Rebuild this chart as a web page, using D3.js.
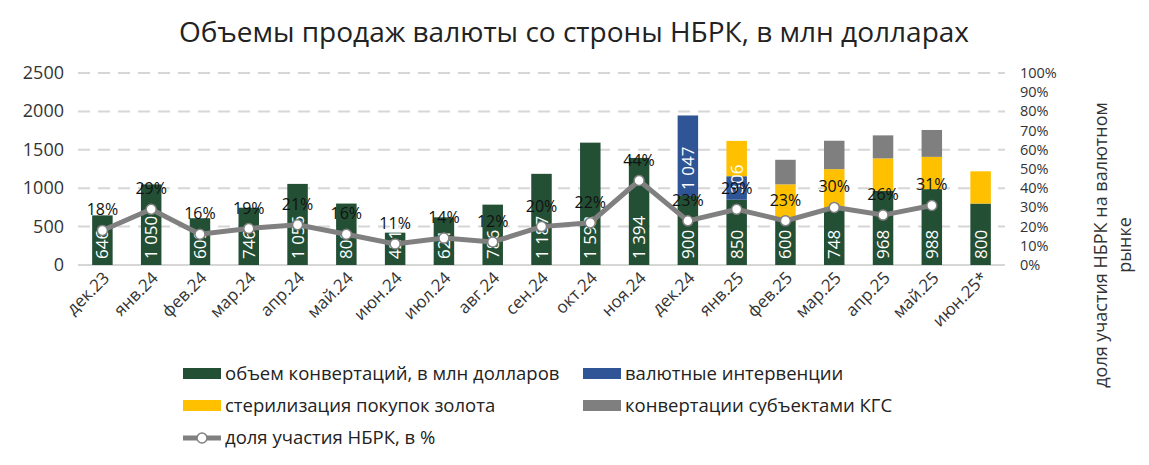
<!DOCTYPE html>
<html><head><meta charset="utf-8">
<script src="https://cdn.jsdelivr.net/npm/d3@7"></script>
<style>body{margin:0;background:#fff;font-family:"Open Sans",sans-serif;}</style>
</head><body><svg id="c" width="1149" height="465"></svg>
<script>
var months = ['дек.23','янв.24','фев.24','мар.24','апр.24','май.24','июн.24','июл.24','авг.24','сен.24','окт.24','ноя.24','дек.24','янв.25','фев.25','мар.25','апр.25','май.25','июн.25*'];
var conv = [646,1050,609,746,1056,800,421,621,786,1187,1593,1394,900,850,600,748,968,988,800];
var interv = [0,0,0,0,0,0,0,0,0,0,0,0,1047,306,0,0,0,0,0];
var gold = [0,0,0,0,0,0,0,0,0,0,0,0,0,460,450,500,420,420,420];
var kgs = [0,0,0,0,0,0,0,0,0,0,0,0,0,0,320,370,300,350,0];
var share = [18,29,16,19,21,16,11,14,12,20,22,44,23,29,23,30,26,31,null];
var leftTicks = [0,500,1000,1500,2000,2500];
var rightTicks = [0,10,20,30,40,50,60,70,80,90,100];

var svg = d3.select('#c');
var L = 78, R = 1005, T = 73, B = 265;
var x = d3.scaleBand().domain(months).range([L, R]).paddingInner(0.58).paddingOuter(0.29);
var y = d3.scaleLinear().domain([0, 2500]).range([B, T]);
var y2 = d3.scaleLinear().domain([0, 100]).range([B, T]);

svg.append('text').attr('x', 574).attr('y', 42).attr('text-anchor', 'middle')
  .style('font-size', '28px').attr('fill', '#222').text('Объемы продаж валюты со строны НБРК, в млн долларах');

// grid
svg.selectAll('.g').data(leftTicks.slice(1)).enter().append('line')
  .attr('x1', L).attr('x2', R).attr('y1', y).attr('y2', y)
  .attr('stroke', '#d6d6d6').attr('stroke-width', 2).attr('stroke-dasharray', '12,8');
svg.append('line').attr('x1', L).attr('x2', R).attr('y1', B).attr('y2', B).attr('stroke', '#d6d6d6').attr('stroke-width', 2);

svg.selectAll('.lt').data(leftTicks).enter().append('text')
  .attr('x', 64).attr('y', function(d) { return y(d) + 6; }).attr('text-anchor', 'end')
  .style('font-size', '18px').attr('fill', '#333').text(function(d) { return d; });
svg.selectAll('.rt').data(rightTicks).enter().append('text')
  .attr('x', 1020).attr('y', function(d) { return y2(d) + 5; })
  .style('font-size', '14.5px').attr('fill', '#333').text(function(d) { return d + '%'; });

svg.append('text').attr('transform', 'translate(1107,245) rotate(-90)')
  .attr('text-anchor', 'middle').style('font-size', '18px').attr('fill', '#333')
  .text('доля участия НБРК на валютном');
svg.append('text').attr('transform', 'translate(1131,245) rotate(-90)')
  .attr('text-anchor', 'middle').style('font-size', '18px').attr('fill', '#333')
  .text('рынке');

// stacked bars
var series = [
  {vals: conv, color: '#234f35'},
  {vals: interv, color: '#2f5597'},
  {vals: gold, color: '#ffc000'},
  {vals: kgs, color: '#7f7f7f'}
];
var base = months.map(function() { return 0; });
series.forEach(function(s) {
  svg.selectAll(null).data(months).enter().append('rect')
    .attr('x', function(d) { return x(d); }).attr('width', x.bandwidth())
    .attr('y', function(d, i) { return y(base[i] + s.vals[i]); })
    .attr('height', function(d, i) { return y(base[i]) - y(base[i] + s.vals[i]); })
    .attr('fill', s.color);
  base = base.map(function(b, i) { return b + s.vals[i]; });
});

function fmt(v) { return v >= 1000 ? d3.format(',')(v).replace(',', ' ') : String(v); }
// value labels inside bars
svg.selectAll('.cl').data(months).enter().append('text')
  .attr('transform', function(d) { return 'translate(' + (x(d) + x.bandwidth() / 2 + 6) + ',' + (B - 6) + ') rotate(-90)'; })
  .style('font-size', '17px').attr('fill', '#fff').text(function(d, i) { return fmt(conv[i]); });
svg.selectAll('.il').data(months.filter(function(d, i) { return interv[i] > 0; })).enter().append('text')
  .attr('transform', function(d) { var i = months.indexOf(d); return 'translate(' + (x(d) + x.bandwidth() / 2 + 6) + ',' + (y(conv[i]) - 6) + ') rotate(-90)'; })
  .style('font-size', '17px').attr('fill', '#fff').text(function(d) { return fmt(interv[months.indexOf(d)]); });

// share line
var pts = months.map(function(d, i) { return {m: d, v: share[i]}; }).filter(function(p) { return p.v !== null; });
var line = d3.line().x(function(p) { return x(p.m) + x.bandwidth() / 2; }).y(function(p) { return y2(p.v); });
svg.append('path').datum(pts).attr('d', line).attr('fill', 'none').attr('stroke', '#808080').attr('stroke-width', 5);
svg.selectAll('.pt').data(pts).enter().append('circle')
  .attr('cx', function(p) { return x(p.m) + x.bandwidth() / 2; }).attr('cy', function(p) { return y2(p.v); })
  .attr('r', 5).attr('fill', '#fff').attr('stroke', '#808080').attr('stroke-width', 1.5);
svg.selectAll('.pl').data(pts).enter().append('text')
  .attr('x', function(p) { return x(p.m) + x.bandwidth() / 2; }).attr('y', function(p) { return y2(p.v) - 15; })
  .attr('text-anchor', 'middle').style('font-size', '16px').attr('fill', '#111').text(function(p) { return p.v + '%'; });

// x labels
svg.selectAll('.xl').data(months).enter().append('text')
  .attr('transform', function(d) { return 'translate(' + (x(d) + x.bandwidth() / 2 + 8) + ',' + (B + 14) + ') rotate(-45)'; })
  .attr('text-anchor', 'end').style('font-size', '17px').attr('fill', '#333').text(function(d) { return d; });

// legend
var leg = [
  {t: 'объем конвертаций, в млн долларов', c: '#234f35', x: 183, y: 374},
  {t: 'валютные интервенции', c: '#2f5597', x: 583, y: 374},
  {t: 'стерилизация покупок золота', c: '#ffc000', x: 183, y: 406},
  {t: 'конвертации субъектами КГС', c: '#7f7f7f', x: 583, y: 406}
];
leg.forEach(function(l) {
  svg.append('rect').attr('x', l.x).attr('y', l.y - 6).attr('width', 38).attr('height', 11).attr('fill', l.c);
  svg.append('text').attr('x', l.x + 42).attr('y', l.y + 6).style('font-size', '18.5px').attr('fill', '#222').text(l.t);
});
svg.append('line').attr('x1', 183).attr('x2', 221).attr('y1', 438).attr('y2', 438).attr('stroke', '#808080').attr('stroke-width', 5);
svg.append('circle').attr('cx', 202).attr('cy', 438).attr('r', 5).attr('fill', '#fff').attr('stroke', '#808080').attr('stroke-width', 1.5);
svg.append('text').attr('x', 225).attr('y', 444).style('font-size', '18.5px').attr('fill', '#222').text('доля участия НБРК, в %');
</script></body></html>
